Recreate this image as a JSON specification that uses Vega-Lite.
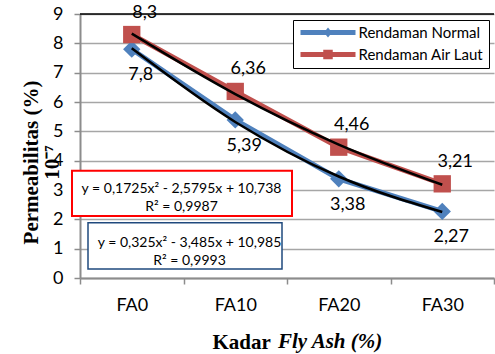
{
  "$schema": "https://vega.github.io/schema/vega-lite/v6.json",
  "width": 414,
  "height": 264,
  "autosize": {"type": "none"},
  "padding": {"left": 80, "top": 14, "right": 1, "bottom": 76},
  "background": "white",
  "config": {
    "view": {"stroke": null},
    "axisY": {"tickCount": 10},
    "locale": {"number": {"decimal": ",", "thousands": ".", "grouping": [3], "currency": ["", ""]}}
  },
  "title": {
    "text": "Fly Ash (%)",
    "orient": "bottom",
    "anchor": "start",
    "frame": "group",
    "font": "Liberation Serif",
    "fontSize": 21,
    "fontStyle": "italic",
    "fontWeight": "bold",
    "color": "black",
    "baseline": "alphabetic",
    "offset": 0,
    "dx": 198,
    "dy": -4
  },
  "datasets": {
    "main": [
      {"series": "Rendaman Normal", "kadar": "FA0", "value": 7.8},
      {"series": "Rendaman Normal", "kadar": "FA10", "value": 5.39},
      {"series": "Rendaman Normal", "kadar": "FA20", "value": 3.38},
      {"series": "Rendaman Normal", "kadar": "FA30", "value": 2.27},
      {"series": "Rendaman Air Laut", "kadar": "FA0", "value": 8.3},
      {"series": "Rendaman Air Laut", "kadar": "FA10", "value": 6.36},
      {"series": "Rendaman Air Laut", "kadar": "FA20", "value": 4.46},
      {"series": "Rendaman Air Laut", "kadar": "FA30", "value": 3.21}
    ],
    "trend": [
      {"series": "Rendaman Normal", "kadar": "FA0", "value": 7.83},
      {"series": "Rendaman Normal", "kadar": "FA10", "value": 5.32},
      {"series": "Rendaman Normal", "kadar": "FA20", "value": 3.46},
      {"series": "Rendaman Normal", "kadar": "FA30", "value": 2.25},
      {"series": "Rendaman Air Laut", "kadar": "FA0", "value": 8.33},
      {"series": "Rendaman Air Laut", "kadar": "FA10", "value": 6.27},
      {"series": "Rendaman Air Laut", "kadar": "FA20", "value": 4.55},
      {"series": "Rendaman Air Laut", "kadar": "FA30", "value": 3.18}
    ],
    "eq": [
      {"series": "Rendaman Air Laut", "lines": ["y = 0,1725x² - 2,5795x + 10,738", "R² = 0,9987"]},
      {"series": "Rendaman Normal", "lines": ["y = 0,325x² - 3,485x + 10,985", "R² = 0,9993"]}
    ]
  },
  "layer": [
    {
      "data": {"name": "main"},
      "transform": [{"filter": "datum.series === 'Rendaman Normal'"}],
      "mark": {"type": "line", "strokeWidth": 5, "color": "#4F81BD"},
      "encoding": {
        "x": {
          "field": "kadar",
          "type": "nominal",
          "sort": ["FA0", "FA10", "FA20", "FA30"],
          "scale": {"type": "band", "domain": ["FA0", "FA10", "FA20", "FA30"], "paddingInner": 0, "paddingOuter": 0},
          "axis": {
            "title": "Kadar",
            "titleFont": "Liberation Serif",
            "titleFontSize": 21,
            "titleFontWeight": "bold",
            "titleColor": "black",
            "titleX": 132,
            "titleY": 70,
            "titleAlign": "left",
            "titleBaseline": "alphabetic",
            "labelAngle": 0,
            "labelFont": "Lato",
            "labelFontSize": 18,
            "labelColor": "black",
            "labelPadding": 12,
            "tickBand": "extent",
            "tickSize": 6,
            "tickColor": "#8C8C8C",
            "tickWidth": 1.5,
            "domainColor": "#8C8C8C",
            "domainWidth": 2,
            "grid": false
          }
        },
        "y": {
          "field": "value",
          "type": "quantitative",
          "scale": {"domain": [0, 9], "nice": false, "zero": true},
          "axis": {
            "values": [0, 1, 2, 3, 4, 5, 6, 7, 8, 9],
            "tickCount": 10,
            "title": ["Permeabilitas (%)", "10⁻⁷"],
            "titleFont": "Liberation Serif",
            "titleFontSize": 21,
            "titleFontWeight": "bold",
            "titleColor": "black",
            "titleAngle": 270,
            "titleX": -49,
            "titleY": 148,
            "titleAlign": "center",
            "titleBaseline": "middle",
            "titleLineHeight": 21,
            "labelFont": "Lato",
            "labelFontSize": 18,
            "labelColor": "black",
            "labelPadding": 11,
            "labelOverlap": false,
            "tickSize": 6,
            "tickColor": "#8C8C8C",
            "tickWidth": 1.5,
            "domainColor": "#8C8C8C",
            "domainWidth": 2,
            "grid": true,
            "gridColor": "#A6A6A6",
            "gridWidth": 1.5
          }
        }
      }
    },
    {
      "data": {"name": "main"},
      "transform": [{"filter": "datum.series === 'Rendaman Air Laut'"}],
      "mark": {"type": "line", "strokeWidth": 5, "color": "#C0504D"},
      "encoding": {
        "x": {"field": "kadar", "type": "nominal"},
        "y": {"field": "value", "type": "quantitative"}
      }
    },
    {
      "data": {"values": [{"edge": "top"}]},
      "mark": {"type": "rule", "color": "black", "strokeWidth": 1.5},
      "encoding": {"y": {"datum": 9}}
    },
    {
      "data": {"name": "main"},
      "transform": [{"filter": "datum.series === 'Rendaman Normal'"}],
      "mark": {"type": "point", "shape": "diamond", "filled": true, "opacity": 1, "size": 300, "strokeWidth": 0, "color": "#4F81BD"},
      "encoding": {
        "x": {"field": "kadar", "type": "nominal"},
        "y": {"field": "value", "type": "quantitative"}
      }
    },
    {
      "data": {"name": "main"},
      "transform": [{"filter": "datum.series === 'Rendaman Air Laut'"}],
      "mark": {"type": "point", "shape": "square", "filled": true, "opacity": 1, "size": 300, "strokeWidth": 0, "color": "#C0504D"},
      "encoding": {
        "x": {"field": "kadar", "type": "nominal"},
        "y": {"field": "value", "type": "quantitative"}
      }
    },
    {
      "data": {"name": "main"},
      "transform": [{"filter": "datum.kadar === 'FA0'"}],
      "mark": {"type": "point", "filled": true, "opacity": 0, "size": 100, "strokeWidth": 0},
      "encoding": {
        "x": {"field": "kadar", "type": "nominal"},
        "y": {"field": "value", "type": "quantitative"},
        "fill": {
          "field": "series",
          "type": "nominal",
          "scale": {"domain": ["Rendaman Normal", "Rendaman Air Laut"], "range": ["#4F81BD", "#C0504D"]},
          "legend": {
            "orient": "none",
            "legendX": 213,
            "legendY": 6,
            "direction": "vertical",
            "title": null,
            "strokeColor": "black",
            "fillColor": "white",
            "padding": 5,
            "labelFont": "Lato",
            "labelFontSize": 15,
            "labelColor": "black",
            "symbolSize": 100,
            "symbolOpacity": 1,
            "symbolOffset": 22.5,
            "labelOffset": 23,
            "rowPadding": 6,
            "symbolStrokeWidth": 0,
            "encode": {"legend": {"strokeWidth": {"value": 1.5}}}
          }
        },
        "shape": {
          "field": "series",
          "type": "nominal",
          "scale": {
            "domain": ["Rendaman Normal", "Rendaman Air Laut"],
            "range": [
              "M-5.5,-0.5H5.5V0.5H-5.5Z M0,-1L0.8,0L0,1L-0.8,0Z",
              "M-5.5,-0.5H5.5V0.5H-5.5Z M-0.95,-0.95H0.95V0.95H-0.95Z"
            ]
          },
          "legend": {
            "orient": "none",
            "legendX": 213,
            "legendY": 6,
            "direction": "vertical",
            "title": null,
            "strokeColor": "black",
            "fillColor": "white",
            "padding": 5,
            "labelFont": "Lato",
            "labelFontSize": 15,
            "labelColor": "black",
            "symbolSize": 100,
            "symbolOpacity": 1,
            "symbolOffset": 22.5,
            "labelOffset": 23,
            "rowPadding": 6,
            "symbolStrokeWidth": 0,
            "encode": {"legend": {"strokeWidth": {"value": 1.5}}}
          }
        }
      }
    },
    {
      "data": {"name": "trend"},
      "mark": {"type": "line", "color": "black", "strokeWidth": 2.5, "interpolate": "monotone"},
      "encoding": {
        "x": {"field": "kadar", "type": "nominal"},
        "y": {"field": "value", "type": "quantitative"},
        "detail": {"field": "series", "type": "nominal"}
      }
    },
    {
      "data": {"name": "main"},
      "transform": [{"filter": "datum.series === 'Rendaman Normal'"}],
      "mark": {"type": "text", "font": "Lato", "fontSize": 18, "color": "black", "dy": 26, "dx": 9},
      "encoding": {
        "x": {"field": "kadar", "type": "nominal"},
        "y": {"field": "value", "type": "quantitative"},
        "text": {"field": "value", "type": "quantitative", "format": ".3~g"}
      }
    },
    {
      "data": {"name": "main"},
      "transform": [{"filter": "datum.series === 'Rendaman Air Laut'"}],
      "mark": {"type": "text", "font": "Lato", "fontSize": 18, "color": "black", "dy": -22, "dx": 13},
      "encoding": {
        "x": {"field": "kadar", "type": "nominal"},
        "y": {"field": "value", "type": "quantitative"},
        "text": {"field": "value", "type": "quantitative", "format": ".3~g"}
      }
    },
    {
      "data": {"name": "eq"},
      "transform": [{"filter": "datum.series === 'Rendaman Air Laut'"}],
      "mark": {"type": "rect", "fill": "white", "stroke": "#FF0000", "strokeWidth": 2, "xOffset": -8, "x2Offset": 5},
      "encoding": {
        "x": {"datum": "FA0", "bandPosition": 0},
        "x2": {"datum": "FA20", "bandPosition": 0},
        "y": {"datum": 3.66},
        "y2": {"datum": 2.11}
      }
    },
    {
      "data": {"name": "eq"},
      "transform": [{"filter": "datum.series === 'Rendaman Air Laut'"}],
      "mark": {"type": "text", "font": "Lato", "fontSize": 14, "color": "black", "lineHeight": 18, "baseline": "middle", "dx": -2},
      "encoding": {
        "x": {"datum": "FA10", "bandPosition": 0},
        "y": {"datum": 3.03},
        "text": {"field": "lines", "type": "nominal"}
      }
    },
    {
      "data": {"name": "eq"},
      "transform": [{"filter": "datum.series === 'Rendaman Normal'"}],
      "mark": {"type": "rect", "fill": "white", "stroke": "#1F497D", "strokeWidth": 1.5, "xOffset": 8, "x2Offset": -5},
      "encoding": {
        "x": {"datum": "FA0", "bandPosition": 0},
        "x2": {"datum": "FA20", "bandPosition": 0},
        "y": {"datum": 1.88},
        "y2": {"datum": 0.31}
      }
    },
    {
      "data": {"name": "eq"},
      "transform": [{"filter": "datum.series === 'Rendaman Normal'"}],
      "mark": {"type": "text", "font": "Lato", "fontSize": 14, "color": "black", "lineHeight": 18, "baseline": "middle", "dx": 6},
      "encoding": {
        "x": {"datum": "FA10", "bandPosition": 0},
        "y": {"datum": 1.19},
        "text": {"field": "lines", "type": "nominal"}
      }
    }
  ]
}
